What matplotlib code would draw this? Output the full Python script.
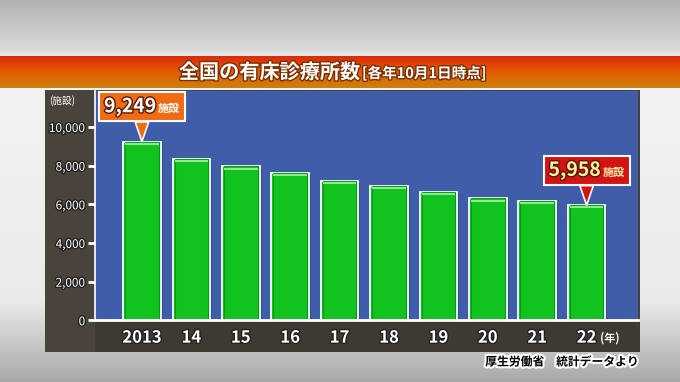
import numpy as np
import matplotlib.pyplot as plt
import matplotlib.patheffects as pe
from matplotlib.patches import Rectangle
from matplotlib.offsetbox import TextArea, HPacker, AnnotationBbox

plt.rcParams['font.family'] = ['Noto Sans CJK JP', 'DejaVu Sans']

# data
years = ['2013', '14', '15', '16', '17', '18', '19', '20', '21', '22']
counts = [9249, 8355, 7961, 7629, 7202, 6934, 6644, 6303, 6169, 5958]
yticks = [0, 2000, 4000, 6000, 8000, 10000]
callouts = {0: '9,249', 9: '5,958'}

W, H = 680, 382
fig = plt.figure(figsize=(6.8, 3.82), dpi=100)

# background layer in pixel coords
bg = fig.add_axes([0, 0, 1, 1])
rows = np.arange(H)
shade = np.interp(rows, [0, 50, 56, 88, 300, 382], [0.70, 0.86, 0.93, 0.95, 0.92, 0.66])
bg.imshow(np.repeat(shade[:, None, None], 3, axis=2), extent=(0, W, H, 0), aspect='auto')

t = np.linspace(0, 1, 32)
banner = np.stack([np.interp(t, [0, 0.5, 1], [0.86, 0.90, 0.80]),
                   np.interp(t, [0, 0.5, 1], [0.17, 0.36, 0.50]),
                   np.interp(t, [0, 0.5, 1], [0.05, 0.00, 0.05])], axis=1)[:, None, :]
bg.imshow(banner, extent=(0, W, 88, 56), aspect='auto')

bg.add_patch(Rectangle((45, 90), 595, 262, fc='#4a433b', ec='none'))
bg.add_patch(Rectangle((95, 320), 545, 32, fc='#3e3a31', ec='none'))
bg.set_xlim(0, W)
bg.set_ylim(H, 0)
bg.axis('off')

# title
stroke = [pe.withStroke(linewidth=2, foreground='#7a3000')]
bg.text(360, 72, '全国の有床診療所数', ha='right', va='center', size=14.5,
        weight='bold', color='white', path_effects=stroke)
bg.text(362, 73, '[各年10月1日時点]', ha='left', va='center', size=10.5,
        weight='bold', color='white', path_effects=stroke)
bg.text(62, 101, '(施設)', ha='center', va='center', size=7, color='white')
bg.text(638, 362, '厚生労働省　統計データより', ha='right', va='center', size=8.5,
        weight='bold', color='black',
        path_effects=[pe.withStroke(linewidth=3, foreground='white')])

# main plot
ax = fig.add_axes([95 / W, (H - 320.3) / H, (638 - 95) / W, (320.3 - 90.7) / H])
ax.set_facecolor('#3f5da8')
x = np.arange(len(counts))
ax.bar(x, counts, width=0.76, color='#12c21e', edgecolor='white', linewidth=1.3,
       path_effects=[pe.SimplePatchShadow(offset=(1.5, -1.5), shadow_rgbFace='#1c2c55'), pe.Normal()])
ax.bar(x, counts, width=0.68, fill=False, edgecolor='#0b9a18', linewidth=0.8)
ax.hlines([v - 110 for v in counts], x - 0.34, x + 0.34, colors='#8ee88e', linewidth=1.5)

ax.set_xlim(-0.95, 10.04)
ax.set_ylim(0, 11880)
ax.set_yticks(yticks, [f'{v:,}' for v in yticks])
ax.set_xticks(x, years)
ax.tick_params(axis='y', colors='white', length=5, width=2, pad=2, labelsize=8.5)
ax.tick_params(axis='x', length=0, pad=6, labelsize=12, labelcolor='white')
for lab in ax.get_xticklabels() + ax.get_yticklabels():
    lab.set_path_effects([pe.withStroke(linewidth=2, foreground='#222222')])
for lab in ax.get_xticklabels():
    lab.set_fontweight('bold')
for s in ['top', 'right']:
    ax.spines[s].set_visible(False)
ax.spines['left'].set_color('white')
ax.spines['left'].set_linewidth(1.2)
ax.spines['bottom'].set_color('white')
ax.spines['bottom'].set_linewidth(2)

ax.text(9.47, -0.078, '(年)', transform=ax.get_xaxis_transform(), ha='center', va='center',
        size=8, weight='bold', color='white')

# callouts
for i, num in callouts.items():
    face = '#f26a12' if i == 0 else '#d41414'
    txtcol = 'white' if i == 0 else '#fff0a8'
    dark = [pe.withStroke(linewidth=2, foreground='#5a1a00')]
    parts = HPacker(children=[
        TextArea(num, textprops=dict(color=txtcol, size=14, weight='bold', path_effects=dark)),
        TextArea('施設', textprops=dict(color=txtcol, size=8, weight='bold'))],
        align='baseline', pad=0, sep=1)
    ab = AnnotationBbox(parts, (i, counts[i]), xybox=(0, 25), xycoords='data',
                        boxcoords='offset points', box_alignment=(0.5, 0.5), frameon=True, pad=0.35,
                        bboxprops=dict(boxstyle='square,pad=0.35', fc=face, ec='white', lw=1.5),
                        arrowprops=dict(arrowstyle='wedge,tail_width=0.7', fc=face, ec='white', lw=1.2,
                                        shrinkA=0, shrinkB=0))
    ax.add_artist(ab)

fig.savefig('out.png', dpi=100)
